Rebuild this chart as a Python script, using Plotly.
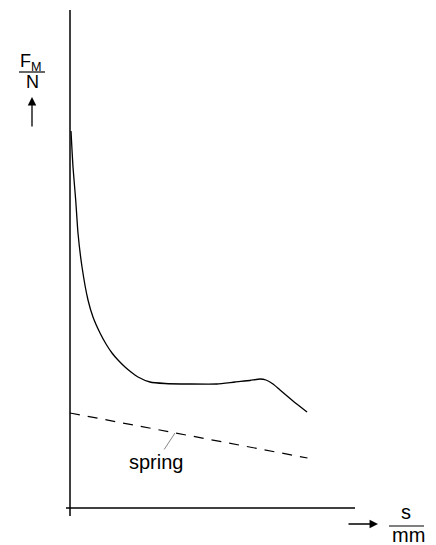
import plotly.graph_objects as go

# ---- data (s in mm, F in N, arbitrary chart units) ----
s_motor = [0.21, 0.42, 0.63, 1.2, 1.68, 2.53, 3.79, 4.84, 6.32, 7.58, 8.84, 10.1,
           11.58, 12.84, 14.32, 16.84, 20.0, 25.26, 30.95, 34.74, 37.89, 40.0,
           41.26, 42.74, 44.21, 46.95, 49.9]
f_motor = [75.4, 71.6, 68.2, 61.6, 55.0, 48.2, 41.6, 38.2, 35.0, 32.8, 31.0, 29.6,
           28.2, 27.2, 26.2, 25.2, 24.9, 24.8, 24.8, 25.2, 25.5, 25.8,
           25.6, 24.8, 23.6, 21.4, 19.2]
s_spring = [0.0, 50.0]
f_spring = [19.0, 10.0]
spring_label = "spring"

# ---- layout mapping ----
PAGE_W, PAGE_H = 436, 545
BODY = 8                   # default page margin around the plot div
W, H = PAGE_W - BODY, PAGE_H - BODY
OX, OY = 70, 508           # page pixel of origin
KX, KY = 4.75, 5.0         # pixels per unit
x_range = [-(OX - BODY) / KX, (W - (OX - BODY)) / KX]
y_range = [-(H - (OY - BODY)) / KY, (OY - BODY) / KY]

def sx(px):
    return (px - OX) / KX

def fy(py):
    return (OY - py) / KY

fig = go.Figure()
fig.add_trace(go.Scatter(x=s_motor, y=f_motor, mode="lines",
                         line=dict(color="black", width=1.3, shape="spline", smoothing=0.5),
                         hoverinfo="skip", showlegend=False))
fig.add_trace(go.Scatter(x=s_spring, y=f_spring, mode="lines",
                         line=dict(color="black", width=1.2, dash="10px,8px"),
                         hoverinfo="skip", showlegend=False))

font = dict(family="Liberation Sans, Arial, sans-serif", color="black")
shapes = [
    dict(type="line", x0=0, x1=0, y0=fy(516), y1=fy(10), line=dict(color="black", width=1.5)),
    dict(type="line", x0=sx(66), x1=sx(355), y0=0, y1=0, line=dict(color="black", width=1.5)),
    dict(type="line", x0=sx(19), x1=sx(45), y0=fy(72), y1=fy(72), line=dict(color="black", width=1.2)),
    dict(type="line", x0=sx(389), x1=sx(424), y0=fy(526), y1=fy(526), line=dict(color="black", width=1.2)),
]
annotations = [
    dict(x=sx(31), y=fy(62), text="F<sub>M</sub>", showarrow=False, font=dict(size=18, **font)),
    dict(x=sx(32), y=fy(82), text="N", showarrow=False, font=dict(size=18, **font)),
    dict(x=sx(406), y=fy(512), text="s", showarrow=False, font=dict(size=20, **font)),
    dict(x=sx(408), y=fy(535), text="mm", showarrow=False, font=dict(size=20, **font)),
    dict(x=sx(32), y=fy(97), ax=0, ay=31, text="", showarrow=True, arrowhead=2,
         arrowsize=1.3, arrowwidth=1.3, arrowcolor="black", standoff=0),
    dict(x=sx(378), y=fy(524), ax=-31, ay=0, text="", showarrow=True, arrowhead=2,
         arrowsize=1.3, arrowwidth=1.3, arrowcolor="black", standoff=0),
    dict(x=22.1, y=15.0, ax=-19, ay=29, text=spring_label, showarrow=True, arrowhead=0,
         arrowwidth=0.8, arrowcolor="#666666", standoff=0, font=dict(size=20, **font)),
]

fig.update_layout(
    width=W, height=H, margin=dict(l=0, r=0, t=0, b=0),
    paper_bgcolor="white", plot_bgcolor="white",
    xaxis=dict(range=x_range, visible=False, fixedrange=True),
    yaxis=dict(range=y_range, visible=False, fixedrange=True),
    shapes=shapes, annotations=annotations, showlegend=False,
)
fig.write_html("out.html", config=dict(displayModeBar=False))
